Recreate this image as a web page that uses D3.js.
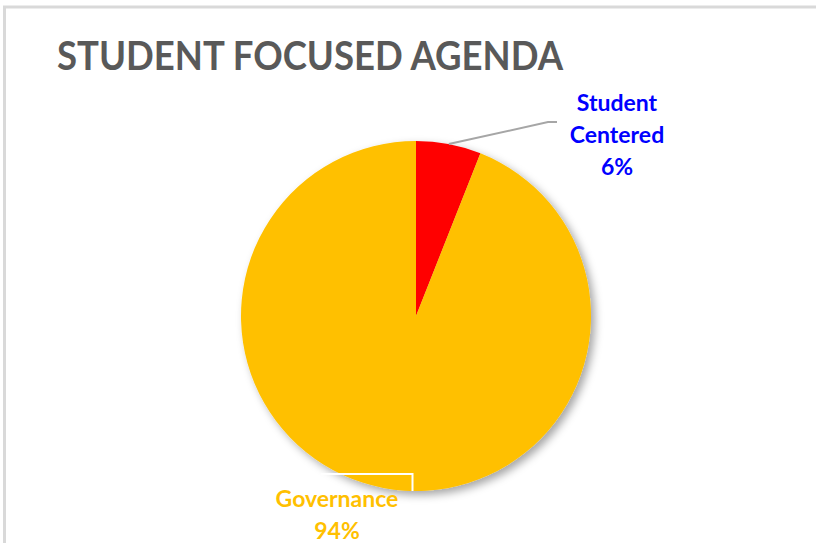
<!DOCTYPE html>
<html><head><meta charset="utf-8">
<script src="https://cdn.jsdelivr.net/npm/d3@7"></script>
<style>html,body{margin:0;padding:0;background:#fff;}</style>
</head><body>
<svg id="c" width="816" height="543"></svg>
<script>
const categories = ["Student Centered", "Governance"];
const values = [6, 94];
const percentLabels = ["6%", "94%"];
const colors = ["#ff0000", "#ffc000"];
const labelColors = ["#0000ff", "#ffc000"];
const title = "STUDENT FOCUSED AGENDA";

const svg = d3.select("#c");

// chart area border
svg.append("rect").attr("x", 4.5).attr("y", 7).attr("width", 830).attr("height", 560)
  .attr("fill", "#fff").attr("stroke", "#d9d9d9").attr("stroke-width", 3);

svg.append("text").attr("x", 57).attr("y", 70)
  .attr("font-family", "Lato, 'Open Sans', sans-serif").attr("font-weight", "bold")
  .attr("font-size", 40).attr("fill", "#595959")
  .attr("textLength", 506).attr("lengthAdjust", "spacingAndGlyphs")
  .text(title);

const defs = svg.append("defs");
const f = defs.append("filter").attr("id", "sh").attr("x", "-20%").attr("y", "-20%").attr("width", "140%").attr("height", "140%");
f.append("feDropShadow").attr("dx", 4).attr("dy", 4).attr("stdDeviation", 4)
  .attr("flood-color", "#000").attr("flood-opacity", 0.35);

const cx = 416, cy = 316, R = 175;
const data = categories.map((c, i) => ({cat: c, value: values[i], pct: percentLabels[i], color: colors[i], lc: labelColors[i]}));
const pie = d3.pie().value(d => d.value).sort(null);
const arcs = pie(data);
const arc = d3.arc().innerRadius(0).outerRadius(R);

const g = svg.append("g").attr("transform", `translate(${cx},${cy})`);
g.append("g").attr("filter", "url(#sh)")
  .selectAll("path").data(arcs).join("path")
  .attr("d", arc).attr("fill", d => d.data.color);

// leader lines
const a0 = arcs[0];
const m0 = a0.startAngle + (a0.endAngle - a0.startAngle) * 0.5;
const p0 = [cx + R * Math.sin(m0), cy - R * Math.cos(m0)];
svg.append("polyline")
  .attr("points", [p0, [548, 122], [557, 122]].map(p => p.join(",")).join(" "))
  .attr("fill", "none").attr("stroke", "#a6a6a6").attr("stroke-width", 2);

const ang1 = Math.PI + 0.02;
const p1 = [cx + R * Math.sin(ang1), cy - R * Math.cos(ang1)];
svg.append("polyline")
  .attr("points", [[p1[0], p1[1]], [p1[0], 474], [321, 474]].map(p => p.join(",")).join(" "))
  .attr("fill", "none").attr("stroke", "#ffffff").attr("stroke-width", 2);

// labels
function label(lines, x, y0, lh, color) {
  const t = svg.append("text").attr("text-anchor", "middle")
    .attr("font-family", "Lato, 'Open Sans', sans-serif").attr("font-weight", "bold")
    .attr("font-size", 23).attr("fill", color);
  lines.forEach((l, i) => t.append("tspan").attr("x", x).attr("y", y0 + i * lh).text(l));
}
label(["Student", "Centered", data[0].pct], 617, 111, 32, data[0].lc);
label([data[1].cat, data[1].pct], 337, 507, 32, data[1].lc);
</script>
</body></html>
